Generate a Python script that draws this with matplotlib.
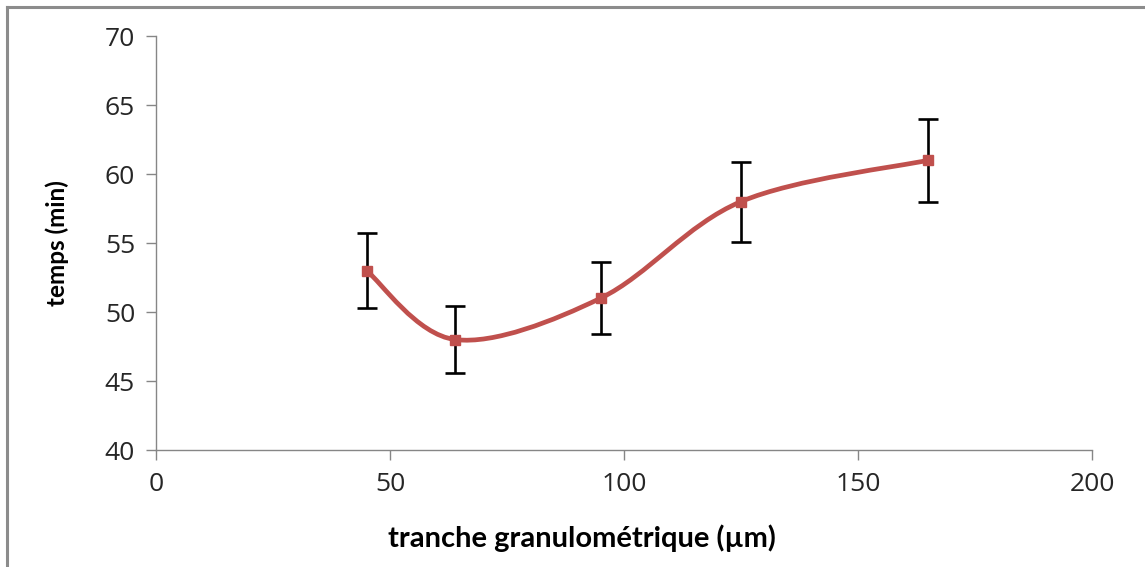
import matplotlib
matplotlib.use("Agg")
import matplotlib.pyplot as plt
from matplotlib.path import Path
from matplotlib.patches import PathPatch
from matplotlib.lines import Line2D
import numpy as np

# Data
granulo = [45, 64, 95, 125, 165]
temps = [53, 48, 51, 58, 61]
erreur = [2.7, 2.4, 2.6, 2.9, 3.0]
xticks = [0, 50, 100, 150, 200]
yticks = [40, 45, 50, 55, 60, 65, 70]

RED = "#C0504D"
GRAY = "#868686"

fig = plt.figure(figsize=(11.45, 5.67), dpi=100)
ax = fig.add_axes([0.1362, 0.2063, 0.9537 - 0.1362, 0.9365 - 0.2063])

# Smoothed line (Catmull-Rom style Bezier like Excel)
pts = np.column_stack([granulo, temps]).astype(float)
n = len(pts)
verts = [tuple(pts[0])]
codes = [Path.MOVETO]
for i in range(n - 1):
    p0 = pts[i - 1] if i > 0 else pts[i]
    p1 = pts[i]
    p2 = pts[i + 1]
    p3 = pts[i + 2] if i + 2 < n else pts[i + 1]
    c1 = p1 + (p2 - p0) / 6.0
    c2 = p2 - (p3 - p1) / 6.0
    verts += [tuple(c1), tuple(c2), tuple(p2)]
    codes += [Path.CURVE4] * 3
ax.add_patch(PathPatch(Path(verts, codes), facecolor="none", edgecolor=RED,
                       lw=3.4, zorder=3, capstyle="round"))

ax.errorbar(granulo, temps, yerr=erreur, fmt="none", ecolor="black",
            elinewidth=1.9, capsize=7, capthick=1.9, zorder=2)
ax.plot(granulo, temps, linestyle="none", marker="s", markersize=7.5,
        color=RED, zorder=4)

ax.set_xlim(0, 200)
ax.set_ylim(40, 70)
ax.set_xticks(xticks)
ax.set_yticks(yticks)
for s in ["top", "right"]:
    ax.spines[s].set_visible(False)
for s in ["left", "bottom"]:
    ax.spines[s].set_color(GRAY)
    ax.spines[s].set_linewidth(1.0)
ax.tick_params(axis="both", direction="out", color=GRAY, length=7, width=1.0,
               labelsize=19, labelcolor="#262626")
ax.tick_params(axis="y", pad=8)
ax.tick_params(axis="x", pad=9)
for lab in ax.get_xticklabels() + ax.get_yticklabels():
    lab.set_fontfamily("Open Sans")

ax.set_xlabel("tranche granulométrique (µm)", fontsize=21, fontweight="bold",
              family=["Lato", "DejaVu Sans"], labelpad=16)
ax.xaxis.set_label_coords((582 - 156) / (1092 - 156), -(538 - 450) / (450 - 36) + 0.0,
                          transform=None)
ax.xaxis.label.set_va("center")
ax.set_ylabel("temps (min)", fontsize=17.5, fontweight="bold",
              family=["Lato", "DejaVu Sans"], labelpad=26)

# Outer chart frame (top and left edges visible)
fig.add_artist(Line2D([7 / 1145, 7 / 1145], [0, 1 - 7 / 567], transform=fig.transFigure,
                      color="#8C8C8C", lw=2.2))
fig.add_artist(Line2D([7 / 1145, 1], [1 - 7 / 567, 1 - 7 / 567], transform=fig.transFigure,
                      color="#8C8C8C", lw=2.2))

fig.savefig("out.png", dpi=100)
